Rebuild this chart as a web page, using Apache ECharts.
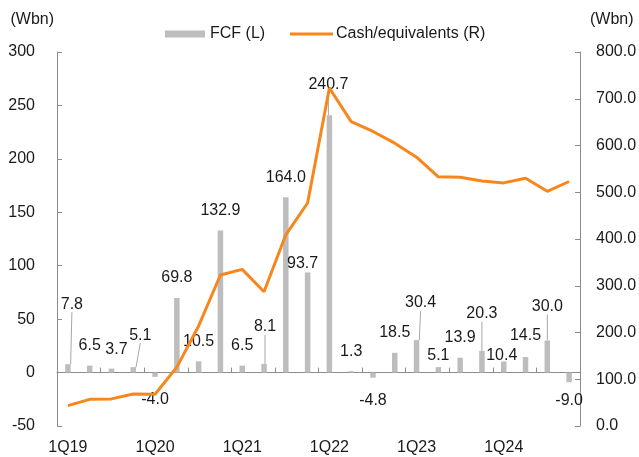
<!DOCTYPE html>
<html>
<head>
<meta charset="utf-8">
<script src="https://cdn.jsdelivr.net/npm/echarts@6/dist/echarts.min.js"></script>
<style>
  html, body { margin: 0; padding: 0; background: #fff; }
  #chart { width: 639px; height: 457px; }
</style>
</head>
<body>
<div id="chart"></div>
<script>
// quarters 1Q19 ~ 4Q24
var quarters = [];
['19', '20', '21', '22', '23', '24'].forEach(function (y) {
  for (var q = 1; q <= 4; q++) quarters.push(q + 'Q' + y);
});

// FCF (L), Wbn
var fcf = [7.8, 6.5, 3.7, 5.1, -4.0, 69.8, 10.5, 132.9, 6.5, 8.1, 164.0, 93.7,
           240.7, 1.3, -4.8, 18.5, 30.4, 5.1, 13.9, 20.3, 10.4, 14.5, 30.0, -9.0];

// Cash/equivalents (R), Wbn
var cash = [43.5, 57, 58, 68.5, 68, 126, 214, 323, 335, 287, 409, 477,
            723, 651, 630, 605, 575, 533, 532, 524, 520, 530, 502, 523];

// labels moved off the bar, with a leader line
var calloutIdx = [0, 3, 9, 12, 16, 19, 22];
var labelShift = [
  [4, -40], [0, 0], [5, 1], [7, -12], [0, 3], [0, 0], [0, 0], [0, 0],
  [0, 0], [1, -17], [0, 0], [-5, 11], [-1, -11], [0, 0], [0, 3], [0, 0],
  [4, -17], [0, 8], [0, 0], [0, -17], [-2, 14], [0, -1], [0, -14], [0, -2]
];

var txt = '#1a1a1a';
var axisGray = '#8c8c8c';
var font = "'Liberation Sans', Arial, sans-serif";
var fs = 16;

var chart = echarts.init(document.getElementById('chart'));

var barData = fcf.map(function (v, i) {
  return {
    value: v,
    label: { position: v < 0 ? 'bottom' : 'top' },
    labelLine: { show: calloutIdx.indexOf(i) >= 0 }
  };
});

chart.setOption({
  animation: false,
  textStyle: { fontFamily: font },
  grid: {
    left: 57,
    right: 59,
    top: 52,
    bottom: 31,
    outerBoundsMode: 'none'
  },
  legend: [
    {
      left: 165,
      top: 26,
      padding: 0,
      itemWidth: 40,
      itemHeight: 7,
      icon: 'rect',
      textStyle: { fontFamily: font, fontSize: fs, color: txt },
      data: ['FCF (L)']
    },
    {
      left: 290,
      top: 26,
      padding: 0,
      itemWidth: 43,
      itemHeight: 3,
      icon: 'rect',
      textStyle: { fontFamily: font, fontSize: fs, color: txt, padding: [0, 0, 0, -2] },
      data: ['Cash/equivalents (R)']
    }
  ],
  xAxis: [
    {
      type: 'category',
      position: 'bottom',
      data: quarters,
      axisLine: { onZero: true, onZeroAxisIndex: 0, lineStyle: { color: axisGray, width: 1 } },
      axisTick: { show: true, inside: true, length: 5, lineStyle: { color: axisGray } },
      axisLabel: { show: false },
      splitLine: { show: false }
    },
    {
      type: 'category',
      position: 'bottom',
      data: quarters,
      axisLine: { show: false, onZero: false },
      axisTick: { show: false },
      axisLabel: {
        interval: 3,
        margin: 14,
        fontFamily: font,
        fontSize: fs,
        color: txt
      },
      splitLine: { show: false }
    }
  ],
  yAxis: [
    {
      type: 'value',
      min: -50,
      max: 300,
      interval: 50,
      name: '(Wbn)',
      nameLocation: 'end',
      nameGap: 24,
      nameTextStyle: { fontFamily: font, fontSize: fs, color: txt, align: 'right', padding: [0, 3, 0, 0] },
      axisLine: { show: true, lineStyle: { color: axisGray } },
      axisTick: { show: true, inside: true, length: 5, lineStyle: { color: axisGray } },
      axisLabel: { margin: 22, fontFamily: font, fontSize: fs, color: txt },
      splitLine: { show: false }
    },
    {
      type: 'value',
      position: 'right',
      min: 0,
      max: 800,
      interval: 100,
      name: '(Wbn)',
      nameLocation: 'end',
      nameGap: 24,
      nameTextStyle: { fontFamily: font, fontSize: fs, color: txt, align: 'left', padding: [0, 0, 0, 10] },
      axisLine: { show: true, lineStyle: { color: axisGray } },
      axisTick: { show: true, inside: true, length: 5, lineStyle: { color: axisGray } },
      axisLabel: {
        margin: 16,
        fontFamily: font,
        fontSize: fs,
        color: txt,
        formatter: function (v) { return v.toFixed(1); }
      },
      splitLine: { show: false }
    }
  ],
  series: [
    {
      name: 'FCF (L)',
      type: 'bar',
      xAxisIndex: 0,
      yAxisIndex: 0,
      barWidth: 5.5,
      itemStyle: { color: '#bdbdbd' },
      label: {
        show: true,
        distance: 12,
        fontFamily: font,
        fontSize: fs,
        color: txt,
        formatter: function (p) { return p.value.toFixed(1); }
      },
      labelLine: { lineStyle: { color: '#a6a6a6', width: 1 } },
      labelLayout: function (p) {
        var s = labelShift[p.dataIndex];
        return { dx: s[0], dy: s[1] };
      },
      data: barData,
      z: 2
    },
    {
      name: 'Cash/equivalents (R)',
      type: 'line',
      xAxisIndex: 0,
      yAxisIndex: 1,
      symbol: 'none',
      lineStyle: { color: '#f7861c', width: 3 },
      itemStyle: { color: '#f7861c' },
      data: cash,
      z: 3
    }
  ]
});
</script>
</body>
</html>
